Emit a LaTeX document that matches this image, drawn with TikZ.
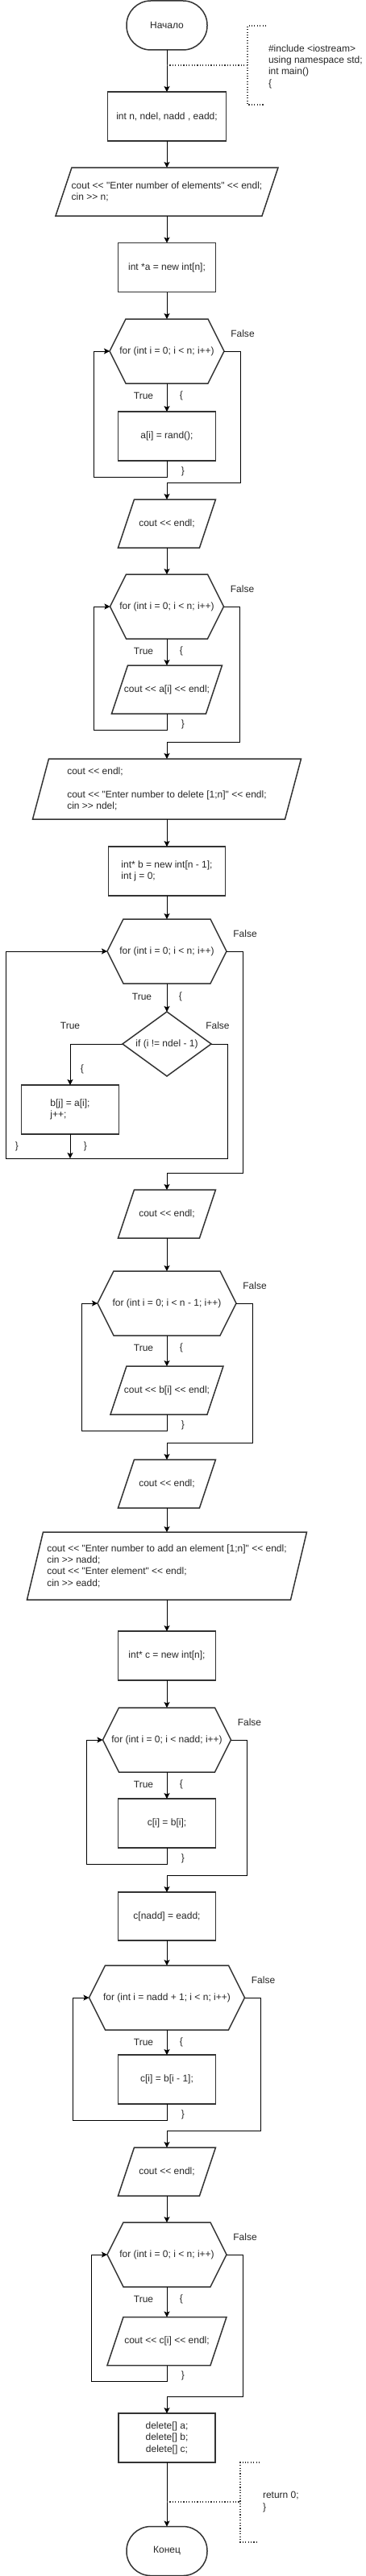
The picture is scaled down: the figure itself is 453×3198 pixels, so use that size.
\documentclass[tikz,border=0pt]{standalone}
\usepackage{fontspec}
\setmainfont{Liberation Sans}[Ligatures=TeXOff]
\usetikzlibrary{arrows.meta,calc}

\tikzset{
  shapeline/.style={line width=1.5pt, draw=black!80},
  flow/.style={line width=0.9pt, draw=black, -{Stealth[length=7pt,width=7pt,inset=1.5pt]}},
  note/.style={line width=1.1pt, draw=black!80, dash pattern=on 1.1pt off 2.3pt},
  term/.style={shapeline, rounded corners=30pt, minimum width=100pt, minimum height=61pt},
  procbox/.style={shapeline, minimum width=121pt, minimum height=61pt},
  iobox/.style={minimum height=60pt},
  loophead/.style={minimum height=80pt},
  every node/.style={font=\fontsize{12}{14.4}\selectfont, text=black!85, align=center, outer sep=0pt}
}

\begin{document}
\begin{tikzpicture}[x=1pt, y=1pt]
\useasboundingbox (0,0) rectangle (453,-3198);

%%%%% blocks
\node[term] (start) at (207,-31.5) {Начало};
\node[procbox, minimum width=147pt] (decl) at (207,-144.5) {int n, ndel, nadd , eadd;};
\node[iobox, minimum width=276pt, align=left] (inN) at (207,-238) {cout << "Enter number of elements" << endl;\\cin >> n;};
\node[procbox] (newA) at (207,-332) {int *a = new int[n];};
\node[loophead, minimum width=142pt] (forA) at (207,-436) {for (int i = 0; i < n; i++)};
\node[procbox] (fillA) at (207,-541.5) {a[i] = rand();};
\node[iobox, minimum width=121pt] (endlA) at (207,-650) {cout << endl;};
\node[loophead, minimum width=141pt] (forB) at (207,-753) {for (int i = 0; i < n; i++)};
\node[iobox, minimum width=137pt] (printA) at (207,-856) {cout << a[i] << endl;};
\node[iobox, minimum width=333pt, minimum height=75pt, align=left] (inDel) at (207,-979.5) {cout << endl;\\[14.4pt]cout << "Enter number to delete [1;n]" << endl;\\cin >> ndel;};
\node[procbox, minimum width=145pt, align=left] (newB) at (207,-1081.5) {int* b = new int[n - 1];\\int j = 0;};
\node[loophead, minimum width=148pt] (forC) at (207,-1181) {for (int i = 0; i < n; i++)};
\node[minimum width=110pt, minimum height=80pt] (ifDel) at (207,-1296) {if (i != ndel - 1)};
\node[procbox, align=left] (copyB) at (87,-1377.5) {b[j] = a[i];\\j++;};
\node[iobox, minimum width=121pt] (endlB) at (207,-1507) {cout << endl;};
\node[loophead, minimum width=172pt] (forD) at (207,-1618) {for (int i = 0; i < n - 1; i++)};
\node[iobox, minimum width=140pt] (printB) at (207,-1726) {cout << b[i] << endl;};
\node[iobox, minimum width=121pt] (endlC) at (207,-1842) {cout << endl;};
\node[iobox, minimum width=347pt, minimum height=84pt, align=left] (inAdd) at (207,-1944) {cout << "Enter number to add an element [1;n]" << endl;\\cin >> nadd;\\cout << "Enter element" << endl;\\cin >> eadd;};
\node[procbox] (newC) at (207,-2055.5) {int* c = new int[n];};
\node[loophead, minimum width=159pt] (forE) at (207,-2160) {for (int i = 0; i < nadd; i++)};
\node[procbox] (copyC) at (207,-2263.5) {c[i] = b[i];};
\node[procbox, minimum height=60pt] (setC) at (207,-2379) {c[nadd] = eadd;};
\node[loophead, minimum width=193pt] (forF) at (207,-2480) {for (int i = nadd + 1; i < n; i++)};
\node[procbox] (shiftC) at (207,-2581.5) {c[i] = b[i - 1];};
\node[iobox, minimum width=121pt] (endlD) at (207,-2696) {cout << endl;};
\node[loophead, minimum width=148pt] (forG) at (207,-2799) {for (int i = 0; i < n; i++)};
\node[iobox, minimum width=148pt] (printC) at (207,-2906.5) {cout << c[i] << endl;};
\node[procbox, minimum width=120pt] (freeAll) at (207,-3026.5) {delete[] a;\\delete[] b;\\delete[] c;};
\node[term] (stop) at (207,-3167) {Конец};

%%%%% outlines
\foreach \p in {inN,endlA,printA,inDel,endlB,printB,endlC,inAdd,endlD,printC}
  \draw[shapeline] ([xshift=20pt]\p.north west) -- (\p.north east) -- ([xshift=-20pt]\p.south east) -- (\p.south west) -- cycle;
\foreach \h in {forA,forB,forC,forD,forE,forF,forG}
  \draw[shapeline] (\h.west) -- ([xshift=20pt]\h.north west) -- ([xshift=-20pt]\h.north east) -- (\h.east) -- ([xshift=-20pt]\h.south east) -- ([xshift=20pt]\h.south west) -- cycle;
\draw[shapeline] (ifDel.north) -- (ifDel.east) -- (ifDel.south) -- (ifDel.west) -- cycle;

%%%%% straight arrows
\foreach \a/\b in {start/decl, decl/inN, inN/newA, newA/forA, endlA/forB, inDel/newB, newB/forC, forC/ifDel, endlB/forD, endlC/inAdd, inAdd/newC, newC/forE, setC/forF, endlD/forG, freeAll/stop}
  \draw[flow] (\a.south) -- (\b.north);

%%%%% loops
\foreach \h/\b in {forA/fillA, forB/printA, forD/printB, forE/copyC, forF/shiftC, forG/printC}{
  \draw[flow] (\h.south) -- (\b.north);
  \node (yes-\h) at ([shift={(-29,-15)}]\h.south) {True};
  \node (open-\h) at ([shift={(18,-15)}]\h.south) {\{};
  \node (close-\h) at ([shift={(20,-13)}]\b.south) {\}};
  \draw[flow] (\b.south) -- ++(0,-20) -| ([xshift=-20pt]\h.west) -- (\h.west);
}
\foreach \h/\n in {forA/endlA, forB/inDel, forC/endlB, forD/endlC, forE/setC, forF/endlD, forG/freeAll}{
  \node (no-\h) at ([shift={(23,22)}]\h.east) {False};
  \draw[flow] (\h.east) -- ++(20,0) |- ([yshift=21pt]\n.north) -- (\n.north);
}

%%%%% if inside the delete loop
\node (yes-forC) at ([shift={(-31,-16)}]forC.south) {True};
\node (open-forC) at ([shift={(17,-16)}]forC.south) {\{};
\node (yes-ifDel) at (87,-1273) {True};
\node (no-ifDel) at (270,-1273) {False};
\node (open-ifDel) at (102,-1327) {\{};
\node (close-ifDel) at (106,-1423) {\}};
\node (close-forC) at (21,-1423) {\}};
\coordinate (joinC) at (87,-1438);
\draw[flow] (ifDel.west) -| (copyB.north);
\draw[flow] (copyB.south) -- (joinC);
\draw[flow] (ifDel.east) -- ++(20,0) |- (joinC) -| ([xshift=-126pt]forC.west) -- (forC.west);

%%%%% comments
\coordinate (noteA) at (207,-81);
\coordinate (brackA) at (307,-81);
\node[anchor=west, align=left, inner sep=0pt] (inclNote) at (333,-82.5) {\#include <iostream>\\using namespace std;\\int main()\\\{};
\draw[note] (noteA) -- (brackA);
\draw[note] (330,-32) -- (307,-32) -- (307,-130) -- (328,-130);

\coordinate (noteB) at (207,-3106);
\coordinate (brackB) at (298,-3106);
\node[anchor=west, align=left, inner sep=0pt] (retNote) at (326,-3106) {return 0;\\\}};
\draw[note] (noteB) -- (brackB);
\draw[note] (322,-3057) -- (298,-3057) -- (298,-3156) -- (318,-3156);

\end{tikzpicture}
\end{document}
